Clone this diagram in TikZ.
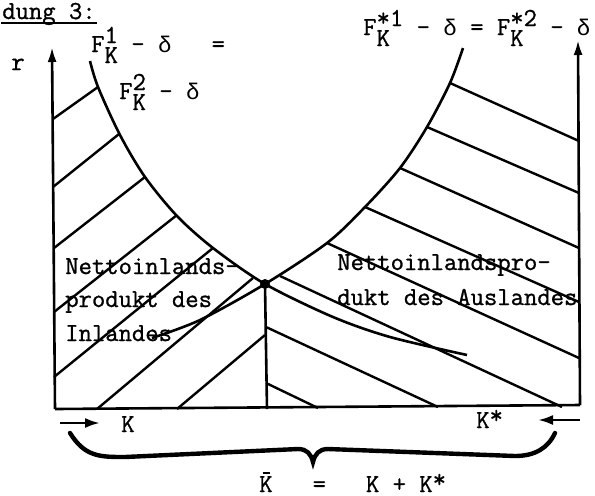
\documentclass[tikz,border=0pt]{standalone}
\usepackage{fontspec}
\setmonofont{Latin Modern Mono}[FakeBold=1]
\newfontfamily\grk{Liberation Mono}
\usetikzlibrary{arrows.meta}
\newcommand{\supsub}[2]{\makebox[0pt][l]{\raisebox{4.5pt}{#1}}\raisebox{-5.5pt}{#2}}
\newcommand{\dlt}{\makebox[6.8pt]{\grk\fontsize{11.3}{13}\selectfont δ}}
\newcommand{\st}{\raisebox{2.3pt}{*}}
\newcommand{\kbar}{\makebox[0pt][l]{\hspace{1.6pt}\rule[9pt]{3.6pt}{1pt}}K}

\begin{document}
\begin{tikzpicture}[x=0.5pt, y=-0.5pt, line width=1.3pt,
  every node/.style={font=\ttfamily\fontsize{12.95}{15}\selectfont, inner sep=0pt, anchor=base west},
  axis/.style={-{Latex[length=7.5pt,width=4.5pt]}},
  hatch/.style={line width=1.2pt},
  curve/.style={line width=1.3pt}]
\useasboundingbox (0,0) rectangle (595,495);

% title
\node (title) at (1,19) {dung 3:};
\draw[line width=1pt] ([yshift=-2pt]title.base west) -- ([yshift=-2pt]title.base east);

% axes
\coordinate (O) at (55,409);
\coordinate (rtop) at (52,47);
\coordinate (O2) at (580,405);
\coordinate (ktop) at (578,40);
\draw[axis] (O) -- (rtop);
\draw[axis] (O2) -- (ktop);
\draw (O) -- (O2);
\node (r) at (10,70) {r};

% curves
\node (fl1) at (90,52) {F\supsub{1}{K}\ -\ \dlt\ \ \ =};
\node (fl2) at (118,99) {F\supsub{2}{K}\ -\ \dlt};
\node (fr) at (362,35) {F\supsub{*1}{K}\ \ -\ \dlt\ =\ F\supsub{*2}{K}\ \ -\ \dlt};
\draw[curve] plot[smooth] coordinates {(90,61) (98,87) (120,135) (145,177) (177,216) (213,248) (265,284) (333,317) (390,337) (467,355)};
\draw[curve] plot[smooth] coordinates {(463,48) (450,83) (427,127) (400,168) (365,207) (327,243) (265,284) (200,320) (152,338)};

% hatching
\foreach \xa/\ya/\xb/\yb in {53/119/98/87, 53/187/119/134, 54/248/145/177, 54/312/177/215,
    54/377/213/248, 97/409/253/278, 177/409/265/335}
  \draw[hatch] (\xa,\ya) -- (\xb,\yb);
\foreach \xa/\ya/\xb/\yb in {450/83/579/141, 427/127/579/193, 400/168/579/248, 365/207/579/302,
    327/243/579/358, 280/276/562/407, 266/327/438/407, 266/383/318/408}
  \draw[hatch] (\xa,\ya) -- (\xb,\yb);

% equilibrium
\node[circle, fill, minimum size=5pt, anchor=center] (eq) at (265,284) {};
\coordinate (kbase) at (267,409);
\draw (eq.center) -- (kbase);

\node (inl1) at (64,274) {Nettoinlands-};
\node (inl2) at (64,307) {produkt des};
\node (inl3) at (64,341) {Inlandes};
\node (ausl1) at (336,270) {Nettoinlandspro-};
\node (ausl2) at (336,305) {dukt des Auslandes};

% capital stocks
\coordinate (ka) at (60,423);
\coordinate (kb) at (100,423);
\coordinate (ksa) at (580,420);
\coordinate (ksb) at (538,420);
\draw[-{Latex[length=7.5pt,width=5pt]}] (ka) -- (kb);
\draw[-{Latex[length=7.5pt,width=5pt]}] (ksa) -- (ksb);
\node (K) at (120,432) {K};
\node (Ks) at (475,428) {K\st};
\draw[line width=2.2pt, line cap=round] (70,433) .. controls (85,457) and (100,457) .. (125,457) -- (298,449)
  .. controls (307,449) and (311,454) .. (313,462) .. controls (315,454) and (319,449) .. (328,449)
  -- (515,456) .. controls (535,456) and (548,448) .. (555,433);
\node (Ksum) at (258,492) {\kbar\ \ \ =\ \ \ K\ +\ K\st};
\end{tikzpicture}
\end{document}
